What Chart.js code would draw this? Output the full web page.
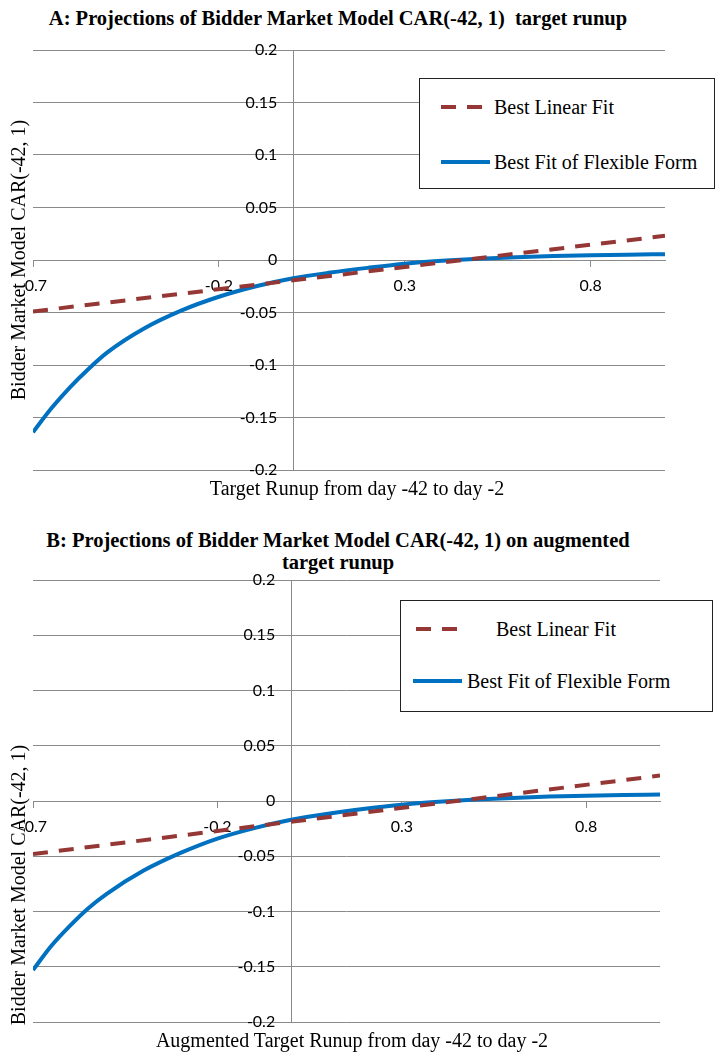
<!DOCTYPE html>
<html>
<head>
<meta charset="utf-8">
<script src="https://cdn.jsdelivr.net/npm/chart.js@4.4.0/dist/chart.umd.min.js"></script>
<style>
    body { margin: 0; background: #fff; width: 715px; height: 1055px; position: relative; overflow: hidden;
           font-family: "Liberation Serif", "Times New Roman", serif; color: #000; }
    canvas { position: absolute; left: 0; }
    .title { position: absolute; left: 0; width: 676px; text-align: center; font-weight: bold;
             font-size: 20.5px; line-height: 22px; white-space: pre; }
    .xtitle { position: absolute; width: 600px; text-align: center; font-size: 20px; line-height: 24px; white-space: pre; }
    .ytitle { position: absolute; width: 400px; height: 24px; text-align: center; font-size: 20px; line-height: 24px;
              white-space: pre; transform: rotate(-90deg); transform-origin: center; }
    .legend { position: absolute; border: 1px solid #222; background: #fff; box-sizing: border-box; }
    .item { position: absolute; height: 24px; width: 300px; }
    .item svg { position: absolute; left: 0; top: 8px; }
    .item span { position: absolute; top: 0; font-size: 20px; line-height: 24px; white-space: pre; }
</style>
</head>
<body>
<div class="title" style="top:7px">A: Projections of Bidder Market Model CAR(-42, 1)  target runup</div>
<canvas id="chartA" width="715" height="500" style="top:0"></canvas>
<div class="ytitle" style="left:-182px; top:248px">Bidder Market Model CAR(-42, 1)</div>
<div class="xtitle" style="left:57px; top:476px">Target Runup from day -42 to day -2</div>
<div class="legend" id="legendA" style="left:419px; top:78px; width:296px; height:111px"></div>

<div class="title" style="top:529px">B: Projections of Bidder Market Model CAR(-42, 1) on augmented
target runup</div>
<canvas id="chartB" width="715" height="555" style="top:500px"></canvas>
<div class="ytitle" style="left:-182px; top:873px">Bidder Market Model CAR(-42, 1)</div>
<div class="xtitle" style="left:52px; top:1028px">Augmented Target Runup from day -42 to day -2</div>
<div class="legend" id="legendB" style="left:400px; top:600px; width:313px; height:112px"></div>

<script>
// x positions where the curves were read
const xValues = [-0.7, -0.65, -0.6, -0.55, -0.5, -0.4, -0.3, -0.2, -0.1, 0, 0.1, 0.2, 0.3, 0.4, 0.5, 0.6, 0.7, 0.8, 0.9, 1.0];
const xTicks = [-0.7, -0.2, 0.3, 0.8];
const linearX = [-0.7, 1.0];

// panel A
const linearA = [-0.049, 0.023];
const flexA = [-0.164, -0.141, -0.121, -0.1035, -0.088, -0.065, -0.048, -0.035, -0.025, -0.0174, -0.012, -0.0075,
               -0.0035, -0.0008, 0.0012, 0.0026, 0.0037, 0.0045, 0.0051, 0.0055];

// panel B
const linearB = [-0.048, 0.023];
const flexB = [-0.153, -0.131, -0.113, -0.097, -0.084, -0.063, -0.047, -0.034, -0.0245, -0.017, -0.0115, -0.007,
               -0.0033, -0.0007, 0.0013, 0.0028, 0.004, 0.0048, 0.0054, 0.0058];

const seriesNames = ["Best Linear Fit", "Best Fit of Flexible Form"];
const RED = "#953735";
const BLUE = "#0070C0";
const GRID = "#8a8a8a";
const TICK_FONT = { family: "Lato", size: 16 };

const fmt = (v) => String(+(+v).toFixed(2));

// y labels sit left of the x=0 axis (Chart.js puts them flush on the line otherwise)
const yLabelPlugin = {
    id: "yLabels",
    beforeDatasetsDraw(chart) {
        const ctx = chart.ctx;
        const ys = chart.scales.y;
        const x0 = chart.scales.x.getPixelForValue(0) - 16;
        ctx.save();
        ctx.font = TICK_FONT.size + "px " + TICK_FONT.family;
        ctx.fillStyle = "#000";
        ctx.textAlign = "right";
        ctx.textBaseline = "middle";
        ys.ticks.forEach(t => ctx.fillText(fmt(t.value), x0, ys.getPixelForValue(t.value)));
        ctx.restore();
    },
};

function makeChart(id, linY, flexY, pad) {
    return new Chart(document.getElementById(id), {
        type: "line",
        data: {
            datasets: [
                {
                    label: seriesNames[0],
                    data: linearX.map((x, i) => ({ x: x, y: linY[i] })),
                    borderColor: RED,
                    borderWidth: 4,
                    borderDash: [15, 11],
                    pointRadius: 0,
                    fill: false,
                },
                {
                    label: seriesNames[1],
                    data: xValues.map((x, i) => ({ x: x, y: flexY[i] })),
                    borderColor: BLUE,
                    borderWidth: 4,
                    pointRadius: 0,
                    fill: false,
                    cubicInterpolationMode: "monotone",
                },
            ],
        },
        options: {
            responsive: false,
            animation: false,
            devicePixelRatio: 1,
            layout: { padding: pad },
            plugins: { legend: { display: false }, tooltip: { enabled: false } },
            scales: {
                x: {
                    type: "linear",
                    min: -0.7,
                    max: 1.0,
                    position: { y: 0 }, // axis crosses at y = 0 like Excel
                    afterBuildTicks: (axis) => { axis.ticks = xTicks.map(v => ({ value: v })); },
                    grid: { drawOnChartArea: false, drawTicks: true, tickLength: 6, color: GRID },
                    border: { color: GRID },
                    ticks: {
                        padding: 10, autoSkip: false, maxRotation: 0, color: "#000",
                        font: TICK_FONT,
                        callback: fmt,
                    },
                },
                y: {
                    min: -0.2,
                    max: 0.2,
                    position: { x: 0 },
                    grid: { color: GRID, tickLength: 6 },
                    border: { color: GRID },
                    ticks: { stepSize: 0.05, display: false },
                },
            },
        },
        plugins: [yLabelPlugin],
    });
}

// rows: [top, lineLeft, textLeft] per series, relative to the legend box
function makeLegend(elId, chart, rows) {
    const box = document.getElementById(elId);
    chart.data.datasets.forEach((ds, i) => {
        const [top, lineX, textX] = rows[i];
        const item = document.createElement("div");
        item.className = "item";
        item.style.left = lineX + "px";
        item.style.top = top + "px";
        const dash = ds.borderDash ? ds.borderDash.join(" ") : "none";
        item.innerHTML = '<svg width="49" height="8"><line x1="0" y1="4" x2="49" y2="4" stroke="' +
            ds.borderColor + '" stroke-width="4" stroke-dasharray="' + dash + '"/></svg>' +
            '<span style="left:' + (textX - lineX) + 'px">' + ds.label + '</span>';
        box.appendChild(item);
    });
}

document.addEventListener("DOMContentLoaded", function () {
    const chartA = makeChart("chartA", linearA, flexA, { left: 33, right: 50, top: 50, bottom: 30 });
    const chartB = makeChart("chartB", linearB, flexB, { left: 33, right: 55, top: 80, bottom: 33 });
    makeLegend("legendA", chartA, [[16, 21, 74], [71, 21, 74]]);
    makeLegend("legendB", chartB, [[16, 15, 95], [68, 12, 66]]);
});
</script>
</body>
</html>
